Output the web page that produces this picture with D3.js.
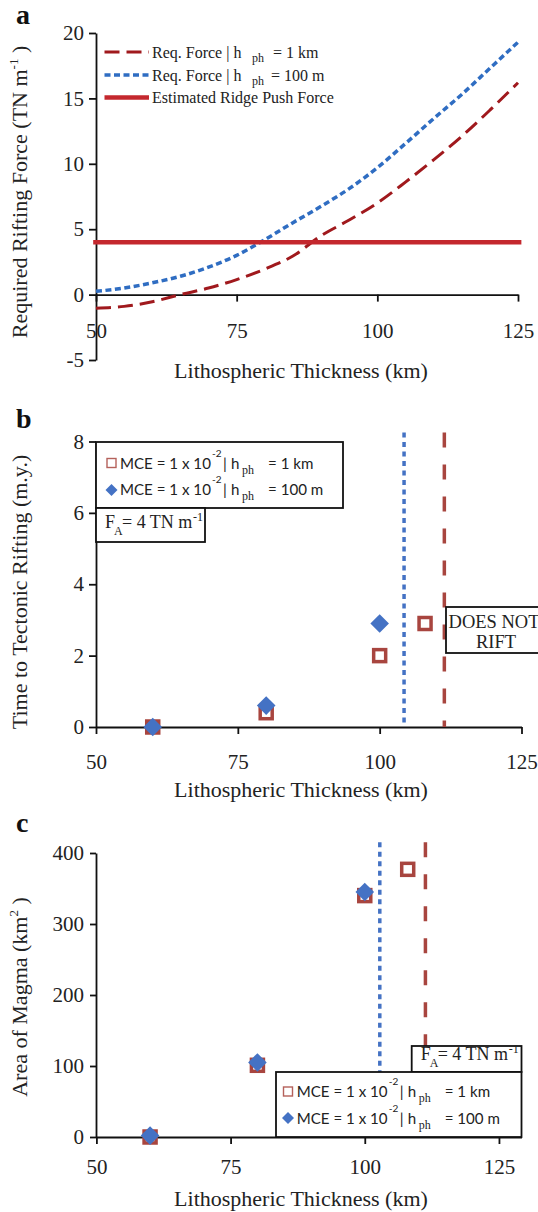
<!DOCTYPE html>
<html>
<head>
<meta charset="utf-8">
<script src="https://cdn.jsdelivr.net/npm/d3@7"></script>
<style>
body { margin: 0; background: #fff; }
</style>
</head>
<body>
<svg id="fig" width="538" height="1212"></svg>
<script>
// panel a: required rifting force vs lithospheric thickness
var thickness = [50, 55, 60, 65, 70, 75, 80, 85, 90, 95, 100, 105, 110, 115, 120, 125]
var force1km  = [-1.05, -0.9, -0.55, 0, 0.5, 1.15, 1.95, 2.95, 4.5, 5.7, 7.0, 8.6, 10.3, 12.1, 14.1, 16.2]
var force100m = [0.25, 0.5, 0.9, 1.4, 2.1, 3.0, 4.2, 5.5, 6.75, 8.1, 9.7, 11.55, 13.45, 15.3, 17.3, 19.3]
var ridgeX = [49.5, 125.6], ridgeForce = [4, 4]
var forceXTicks = [50, 75, 100, 125], forceYTicks = [-5, 0, 5, 10, 15, 20]

// panel b: time to tectonic rifting
var rift1kmX = [60, 80, 100, 108], rift1km = [0, 0.4, 2.0, 2.9]
var rift100mX = [60, 80, 100], rift100m = [0, 0.6, 2.9]
var riftLimit1km = 111.4, riftLimit100m = 104.3, riftLimitTop = 8.25
var riftXTicks = [50, 75, 100, 125], riftYTicks = [0, 2, 4, 6, 8]

// panel c: area of magma
var magma1kmX = [60, 80, 100, 108], magma1km = [0, 101, 340, 377]
var magma100mX = [60, 80, 100], magma100m = [2, 105, 345]
var magmaLimit1km = 111.3, magmaLimit100m = 102.8, magmaLimitTop = 415
var magmaXTicks = [50, 75, 100, 125], magmaYTicks = [0, 100, 200, 300, 400]

var serif = "'Liberation Serif', 'Times New Roman', serif"
var sans = "Lato, 'Open Sans', sans-serif"
var darkRed = "#a0191d", lineBlue = "#2f6dc2", ridgeRed = "#c4282e"
var sqRed = "#a8453f", legSqRed = "#b5615b", mBlue = "#4472c4"
var plain = function (d) { return String(d) }   // keep the plain hyphen in "-5"

var svg = d3.select("#fig")

function styleAxis(g) {
    g.attr("font-family", serif).attr("font-size", 21)
    g.select(".domain").attr("stroke", "#111").attr("stroke-width", 1.8)
    g.selectAll(".tick line").attr("stroke", "#111").attr("stroke-width", 1.8)
    g.selectAll(".tick text").attr("fill", "#222")
}

function diamond(r) {
    return "M0," + (-r) + "L" + r + ",0L0," + r + "L" + (-r) + ",0Z"
}

function yTitle(cy, parts) {
    var t = svg.append("text")
        .attr("transform", "translate(27," + cy + ") rotate(-90)")
        .attr("text-anchor", "middle")
        .attr("font-family", serif).attr("font-size", 22).attr("fill", "#222")
    parts.forEach(function (p) {
        t.append("tspan").text(p[0]).attr("font-size", p[1] || 22).attr("dy", p[2] || 0)
    })
}

function xTitle(baseline) {
    svg.append("text").attr("x", 301).attr("y", baseline)
        .attr("text-anchor", "middle")
        .attr("font-family", serif).attr("font-size", 22).attr("fill", "#222")
        .text("Lithospheric Thickness (km)")
}

function panelLabel(txt, y) {
    svg.append("text").attr("x", 16).attr("y", y)
        .attr("font-family", serif).attr("font-size", 28).attr("font-weight", "bold")
        .attr("fill", "#111").text(txt)
}

// MCE legend row, pieces placed like the original
function mceRow(g, x0, base, value) {
    var t = function (x, y, s, font, size) {
        return g.append("text").attr("x", x).attr("y", y).attr("font-family", font)
            .attr("font-size", size).attr("fill", "#222").text(s)
    }
    var main = t(x0, base, "MCE = 1 x 10", sans, 16)
    // the original font is narrower; fit the lead text to its width
    var fs = Math.min(16, 16 * 91 / main.node().getComputedTextLength())
    main.attr("font-size", fs)
    t(x0 + 92, base - 12, "-2", sans, 10)
    t(x0 + 103, base, "|", sans, fs)
    t(x0 + 111, base, "h", sans, fs)
    t(x0 + 122, base + 5, "ph", serif, 12)
    t(x0 + 148, base, "= " + value, sans, fs)
}

function faBox(g, x, y, w, h, base) {
    g.append("rect").attr("x", x).attr("y", y).attr("width", w).attr("height", h)
        .attr("fill", "#fff").attr("stroke", "#111").attr("stroke-width", 1.8)
    var x0 = x + 9
    var t = function (dx, dy, s, size) {
        g.append("text").attr("x", x0 + dx).attr("y", base + dy).attr("font-family", serif)
            .attr("font-size", size).attr("fill", "#222").text(s)
    }
    t(0, 0, "F", 18)
    t(9, 7, "A", 12)
    t(17, 0, "= 4 TN m", 18)
    t(88, -7, "-1", 12)
}

// ---------------- panel a ----------------
var xA = d3.scaleLinear().domain([50, 125]).range([96, 518])
var yA = d3.scaleLinear().domain([-5, 20]).range([360, 33])
var gA = svg.append("g")

gA.append("g").attr("transform", "translate(96,0)")
    .call(d3.axisLeft(yA).tickValues(forceYTicks).tickFormat(plain).tickSize(7).tickSizeOuter(0).tickPadding(5))
    .call(styleAxis)
gA.append("g").attr("transform", "translate(0," + yA(0) + ")")
    .call(d3.axisBottom(xA).tickValues(forceXTicks).tickSize(7).tickSizeOuter(0).tickPadding(21))
    .call(styleAxis)

var lineA = d3.line()
    .x(function (d, i) { return xA(thickness[i]) })
    .y(function (d) { return yA(d) })
    .curve(d3.curveMonotoneX)

gA.append("path").attr("d", lineA(force1km)).attr("fill", "none")
    .attr("stroke", darkRed).attr("stroke-width", 3).attr("stroke-dasharray", "15,7")
gA.append("path").attr("d", lineA(force100m)).attr("fill", "none")
    .attr("stroke", lineBlue).attr("stroke-width", 3.5).attr("stroke-dasharray", "6,3.5")
gA.append("path")
    .attr("d", d3.line().x(function (d, i) { return xA(ridgeX[i]) }).y(function (d) { return yA(d) })(ridgeForce))
    .attr("fill", "none").attr("stroke", ridgeRed).attr("stroke-width", 4.5)

// legend a
var legA = [
    { y: 52, stroke: darkRed, w: 3, dash: "15,7", value: "= 1 km", vx: 273 },
    { y: 75, stroke: lineBlue, w: 3.5, dash: "6,3.5", value: "= 100 m", vx: 271 },
    { y: 97.5, stroke: ridgeRed, w: 4.5, dash: null }
]
legA.forEach(function (d) {
    gA.append("line").attr("x1", 104.5).attr("x2", 149).attr("y1", d.y).attr("y2", d.y)
        .attr("stroke", d.stroke).attr("stroke-width", d.w).attr("stroke-dasharray", d.dash)
    if (d.value) {
        gA.append("text").attr("x", 152).attr("y", d.y + 5.5).attr("font-family", serif)
            .attr("font-size", 16).attr("fill", "#222").text("Req. Force | h")
        gA.append("text").attr("x", 252).attr("y", d.y + 10).attr("font-family", serif)
            .attr("font-size", 12).attr("fill", "#222").text("ph")
        gA.append("text").attr("x", d.vx).attr("y", d.y + 5.5).attr("font-family", serif)
            .attr("font-size", 16).attr("fill", "#222").text(d.value)
    } else {
        gA.append("text").attr("x", 152).attr("y", d.y + 5.5).attr("font-family", serif)
            .attr("font-size", 16).attr("fill", "#222").text("Estimated Ridge Push Force")
    }
})

panelLabel("a", 24)
yTitle(192, [["Required Rifting Force (TN m"], ["-1", 13, -9], [" )", 22, 9]])
xTitle(378)

// ---------------- panel b ----------------
var xB = d3.scaleLinear().domain([50, 125]).range([96, 521.5])
var yB = d3.scaleLinear().domain([0, 8]).range([727, 441.5])
var gB = svg.append("g")

gB.append("g").attr("transform", "translate(96,0)")
    .call(d3.axisLeft(yB).tickValues(riftYTicks).tickSize(7).tickSizeOuter(0).tickPadding(5))
    .call(styleAxis)
gB.append("g").attr("transform", "translate(0," + yB(0) + ")")
    .call(d3.axisBottom(xB).tickValues(riftXTicks).tickSize(7).tickSizeOuter(0).tickPadding(20))
    .call(styleAxis)

gB.append("line").attr("x1", xB(riftLimit100m)).attr("x2", xB(riftLimit100m))
    .attr("y1", yB(riftLimitTop)).attr("y2", yB(0))
    .attr("stroke", mBlue).attr("stroke-width", 3.5).attr("stroke-dasharray", "5,4.5")
gB.append("line").attr("x1", xB(riftLimit1km)).attr("x2", xB(riftLimit1km))
    .attr("y1", yB(riftLimitTop)).attr("y2", yB(0))
    .attr("stroke", sqRed).attr("stroke-width", 3.5).attr("stroke-dasharray", "15,17")

gB.selectAll(".sq").data(rift1km).enter().append("rect")
    .attr("x", function (d, i) { return xB(rift1kmX[i]) - 6 })
    .attr("y", function (d) { return yB(d) - 6 })
    .attr("width", 12).attr("height", 12)
    .attr("fill", "#fff").attr("stroke", sqRed).attr("stroke-width", 3.5)
gB.selectAll(".dia").data(rift100m).enter().append("path")
    .attr("transform", function (d, i) { return "translate(" + xB(rift100mX[i]) + "," + yB(d) + ")" })
    .attr("d", diamond(9.3)).attr("fill", mBlue)

// legend b
gB.append("rect").attr("x", 96).attr("y", 442).attr("width", 247).attr("height", 66)
    .attr("fill", "#fff").attr("stroke", "#111").attr("stroke-width", 1.8)
gB.append("rect").attr("x", 107).attr("y", 458.5).attr("width", 9).attr("height", 9)
    .attr("fill", "#fff").attr("stroke", legSqRed).attr("stroke-width", 1.4)
gB.append("path").attr("transform", "translate(111.5,490)").attr("d", diamond(6)).attr("fill", mBlue)
mceRow(gB, 120, 468.5, "1 km")
mceRow(gB, 120, 495, "100 m")
faBox(gB, 96, 508, 109, 34, 528)

// does not rift box
gB.append("rect").attr("x", 446).attr("y", 607).attr("width", 100).attr("height", 46)
    .attr("fill", "#fff").attr("stroke", "#111").attr("stroke-width", 1.8)
gB.append("text").attr("x", 494).attr("y", 628).attr("text-anchor", "middle")
    .attr("font-family", serif).attr("font-size", 18.5).attr("fill", "#222").text("DOES NOT")
gB.append("text").attr("x", 496).attr("y", 648).attr("text-anchor", "middle")
    .attr("font-family", serif).attr("font-size", 18.5).attr("fill", "#222").text("RIFT")

panelLabel("b", 428)
yTitle(592, [["Time to Tectonic Rifting (m.y.)"]])
xTitle(797)

// ---------------- panel c ----------------
var xC = d3.scaleLinear().domain([50, 129.2]).range([96.4, 521.5])
var yC = d3.scaleLinear().domain([0, 400]).range([1137, 853])
var gC = svg.append("g")

gC.append("g").attr("transform", "translate(96,0)")
    .call(d3.axisLeft(yC).tickValues(magmaYTicks).tickSize(6).tickSizeOuter(0).tickPadding(6))
    .call(styleAxis)
gC.append("g").attr("transform", "translate(0," + yC(0) + ")")
    .call(d3.axisBottom(xC).tickValues(magmaXTicks).tickSize(7).tickSizeOuter(0).tickPadding(15))
    .call(styleAxis)

gC.append("line").attr("x1", xC(magmaLimit100m)).attr("x2", xC(magmaLimit100m))
    .attr("y1", yC(magmaLimitTop)).attr("y2", yC(0))
    .attr("stroke", mBlue).attr("stroke-width", 3.5).attr("stroke-dasharray", "5,4.5")
gC.append("line").attr("x1", xC(magmaLimit1km)).attr("x2", xC(magmaLimit1km))
    .attr("y1", yC(magmaLimitTop)).attr("y2", yC(0))
    .attr("stroke", sqRed).attr("stroke-width", 3.5).attr("stroke-dasharray", "15,17")

gC.selectAll(".sq").data(magma1km).enter().append("rect")
    .attr("x", function (d, i) { return xC(magma1kmX[i]) - 6 })
    .attr("y", function (d) { return yC(d) - 6 })
    .attr("width", 12).attr("height", 12)
    .attr("fill", "#fff").attr("stroke", sqRed).attr("stroke-width", 3.5)
gC.selectAll(".dia").data(magma100m).enter().append("path")
    .attr("transform", function (d, i) { return "translate(" + xC(magma100mX[i]) + "," + yC(d) + ")" })
    .attr("d", diamond(9.3)).attr("fill", mBlue)

// legend c
faBox(gC, 411.7, 1046, 109.8, 26, 1060)
gC.append("rect").attr("x", 276).attr("y", 1072).attr("width", 245.5).attr("height", 65)
    .attr("fill", "#fff").attr("stroke", "#111").attr("stroke-width", 1.8)
gC.append("rect").attr("x", 283.5).attr("y", 1087).attr("width", 9).attr("height", 9)
    .attr("fill", "#fff").attr("stroke", legSqRed).attr("stroke-width", 1.4)
gC.append("path").attr("transform", "translate(288,1118)").attr("d", diamond(6)).attr("fill", mBlue)
mceRow(gC, 296.7, 1097, "1 km")
mceRow(gC, 296.7, 1123.5, "100 m")

panelLabel("c", 832)
yTitle(997, [["Area of Magma (km"], ["2", 13, -9], [" )", 22, 9]])
xTitle(1206)
</script>
</body>
</html>
